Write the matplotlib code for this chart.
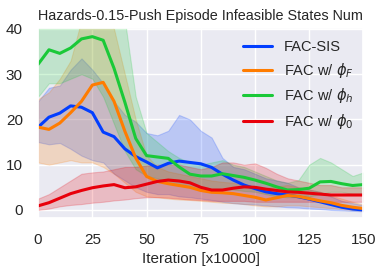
import numpy as np
import matplotlib
matplotlib.use("Agg")
import matplotlib.pyplot as plt
import seaborn as sns

sns.set_theme(style="darkgrid")
plt.rcParams['font.family'] = ['Liberation Sans', 'DejaVu Sans']

x = list(range(0, 151, 5))

labels = ["FAC-SIS", r"FAC w/ $\phi_F$", r"FAC w/ $\phi_h$", r"FAC w/ $\phi_0$"]
colors = ["#023EFF", "#FF7C00", "#1AC938", "#E8000B"]

sis_mean = [18.3, 20.5, 21.4, 23.0, 22.7, 21.5, 17.2, 16.2, 13.5, 11.8, 10.6, 9.3, 10.3, 10.8, 10.5, 10.2,
            9.4, 7.9, 6.6, 5.5, 4.7, 4.0, 3.6, 3.3, 2.9, 2.4, 1.8, 1.2, 0.6, 0.2, 0.0]
sis_lo = [15, 14.5, 14.8, 13.5, 12, 11, 10.5, 8, 6.5, 5, 4, 3.5, 3.5, 3, 2.8, 2.5,
          2.2, 1.8, 1.5, 1.3, 1.2, 1.0, 0.8, 0.6, 0.5, 0.3, 0.2, 0, -0.1, -0.2, -0.3]
sis_hi = [24, 27, 27.5, 31, 33.5, 31, 28, 24, 21, 19.5, 17, 16.5, 17.5, 21, 20, 17.5,
          16, 11.5, 9.5, 9, 8, 7, 6.5, 6, 5, 4.5, 4, 3, 2, 1.5, 1]

phf_mean = [18.3, 17.8, 19.2, 21.5, 24.0, 27.6, 28.2, 24.0, 17.4, 11.5, 7.4, 6.3, 5.8, 5.4, 5.0, 4.3,
            3.9, 3.8, 3.6, 3.2, 2.8, 2.2, 2.7, 3.2, 3.0, 2.5, 2.0, 1.6, 1.0, 0.6, 0.3]
phf_lo = [10.5, 10, 10.5, 11, 10.5, 10.5, 9.5, 8, 6, 4, 3, 2.8, 2.5, 2.3, 2.2, 2.0,
          1.8, 1.6, 1.5, 1.3, 1.0, 0.8, 0.8, 1.0, 1.0, 0.8, 0.6, 0.4, 0.2, 0, -0.2]
phf_hi = [24.5, 26, 29, 33, 42, 44, 44, 40, 30, 20, 12, 9.5, 8.5, 8, 7.5, 7,
          6.5, 6.2, 6, 5.5, 5, 4.8, 5.2, 5.5, 5, 4.5, 4, 3.2, 2.5, 1.8, 1.2]

phh_mean = [32.2, 35.4, 34.6, 35.8, 37.8, 38.3, 37.5, 31.3, 23.8, 15.8, 12.0, 11.7, 11.4, 9.5, 7.9, 7.5,
            7.5, 8.0, 7.6, 7.2, 6.6, 5.9, 5.1, 4.4, 4.5, 4.8, 6.2, 6.3, 5.8, 5.4, 5.6]
phh_lo = [25, 28, 28, 29, 30, 29, 25, 19, 13, 9, 7.5, 7, 6, 5.5, 5, 4.5,
          4.5, 4.5, 4.5, 4.2, 4, 3.5, 3, 2.8, 2.8, 3, 3.5, 4, 4, 3.5, 3.5]
phh_hi = [44, 44, 44, 44, 44, 44, 44, 44, 42, 25, 17, 15, 13, 11.5, 10.5, 10,
          10.5, 11, 10, 9.5, 8.5, 7.5, 6.5, 6, 6.6, 10, 11.5, 10.5, 9, 7.5, 8.3]

ph0_mean = [0.9, 1.6, 2.6, 3.6, 4.3, 4.9, 5.3, 5.6, 4.9, 5.1, 5.7, 6.3, 6.6, 6.4, 6.0, 5.0,
            4.4, 4.4, 4.8, 5.1, 5.0, 4.6, 4.3, 4.0, 3.9, 3.7, 3.5, 3.3, 3.3, 3.3, 3.3]
ph0_lo = [0, 0.3, 0.8, 1.1, 1.3, 1.6, 1.8, 2.1, 2.3, 2.6, 2.8, 2.8, 2.7, 2.5, 2.3, 2.2,
          2.0, 2.0, 2.0, 2.0, 1.8, 1.8, 1.8, 1.8, 1.8, 1.8, 1.8, 1.8, 1.8, 1.8, 1.8]
ph0_hi = [2.5, 3.5, 5, 6.5, 8, 8.3, 8.5, 9, 9.5, 9.5, 9.8, 10, 10, 10, 9.5, 9,
          9.5, 10.5, 10.5, 10, 10.3, 9.3, 8, 7, 6.5, 6, 5.5, 5.5, 5, 5, 5]

series = [(sis_mean, sis_lo, sis_hi), (phf_mean, phf_lo, phf_hi),
          (phh_mean, phh_lo, phh_hi), (ph0_mean, ph0_lo, ph0_hi)]

fig = plt.figure(figsize=(3.85, 2.75), dpi=100)
ax = fig.add_axes([0.099, 0.207, 0.845, 0.691])

for (m, lo, hi), c, lab in zip(series, colors, labels):
    ax.fill_between(x, lo, hi, color=c, alpha=0.2, linewidth=0.8)
    ax.plot(x, m, color=c, lw=2.2, label=lab)

ax.set_xlim(0, 150)
ax.set_ylim(-1.8, 40.2)
ax.set_xticks([0, 25, 50, 75, 100, 125, 150])
ax.set_yticks([0, 10, 20, 30, 40])
ax.tick_params(axis='x', labelsize=11, pad=5)
ax.tick_params(axis='y', labelsize=11, pad=5)
ax.set_title("Hazards-0.15-Push Episode Infeasible States Num", fontsize=10.4, pad=6)
ax.set_xlabel("Iteration [x10000]", fontsize=11, labelpad=3)
ax.legend(loc="upper right", frameon=False, fontsize=10.5, handlelength=2.0,
          labelspacing=0.45, borderaxespad=0.3, bbox_to_anchor=(1.0, 0.99))

fig.savefig("out.png", dpi=100)
